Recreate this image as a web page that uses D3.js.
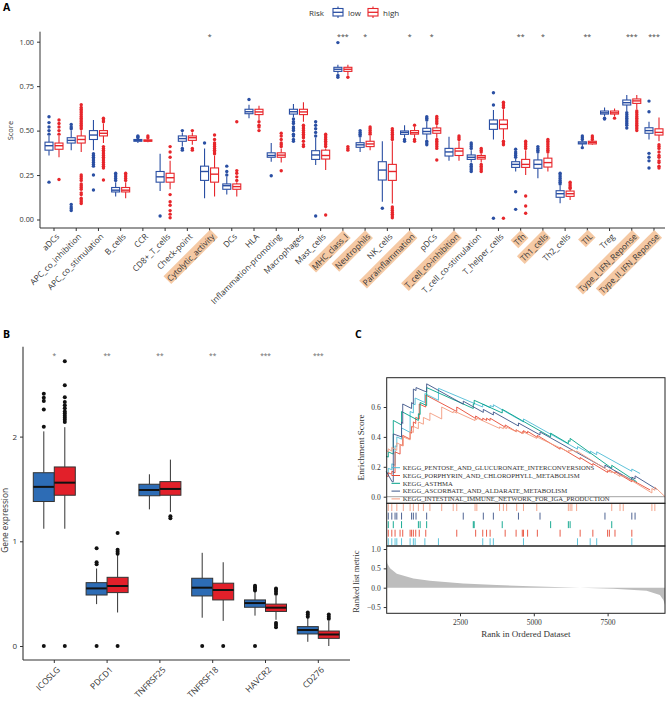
<!DOCTYPE html>
<html><head><meta charset="utf-8">
<script src="https://cdn.jsdelivr.net/npm/d3@7"></script>
<style>body{margin:0;background:#fff}svg{display:block}</style>
</head><body>
<svg id="c" width="669" height="708"></svg>
<script>
// ---------- Panel A data ----------
const catsA = ["aDCs","APC_co_inhibition","APC_co_stimulation","B_cells","CCR","CD8+_T_cells","Check-point","Cytolytic_activity","DCs","HLA","Inflammation-promoting","Macrophages","Mast_cells","MHC_class_I","Neutrophils","NK_cells","Parainflammation","pDCs","T_cell_co-inhibition","T_cell_co-stimulation","T_helper_cells","Tfh","Th1_cells","Th2_cells","TIL","Treg","Type_I_IFN_Reponse","Type_II_IFN_Reponse"];
const sigA = ["","","","","","","","*","","","","","","***","*","","*","*","","","","**","*","","**","","***","***"];
const highlightA = ["Cytolytic_activity","MHC_class_I","Neutrophils","Parainflammation","T_cell_co-inhibition","Tfh","Th1_cells","TIL","Type_I_IFN_Reponse","Type_II_IFN_Reponse"];
const groupsA = ["low","high"];
const ticksA = [0,0.25,0.5,0.75,1];
// [whiskerLow, q1, median, q3, whiskerHigh]
const statsLowA = [
 [0.36,0.39,0.415,0.435,0.47],[0.39,0.43,0.445,0.46,0.50],[0.39,0.45,0.475,0.50,0.56],[0.13,0.155,0.165,0.18,0.21],
 [0.43,0.44,0.445,0.45,0.455],[0.16,0.21,0.24,0.27,0.37],[0.41,0.44,0.455,0.47,0.49],[0.12,0.22,0.27,0.30,0.40],
 [0.14,0.17,0.19,0.20,0.24],[0.57,0.595,0.606,0.62,0.645],[0.325,0.35,0.36,0.375,0.43],[0.575,0.593,0.606,0.62,0.65],
 [0.307,0.338,0.363,0.387,0.46],[0.82,0.833,0.845,0.856,0.87],[0.38,0.406,0.42,0.432,0.46],[0.10,0.222,0.278,0.325,0.44],
 [0.46,0.479,0.49,0.498,0.53],[0.45,0.481,0.495,0.513,0.55],[0.33,0.357,0.38,0.40,0.466],[0.32,0.338,0.35,0.363,0.39],
 [0.45,0.507,0.537,0.56,0.616],[0.27,0.293,0.31,0.325,0.34],[0.232,0.288,0.31,0.335,0.37],[0.091,0.125,0.145,0.162,0.19],
 [0.41,0.425,0.43,0.437,0.445],[0.58,0.593,0.60,0.61,0.63],[0.61,0.644,0.657,0.672,0.70],[0.45,0.485,0.50,0.516,0.55]];
const statsHighA = [
 [0.35,0.395,0.415,0.43,0.47],[0.38,0.43,0.45,0.47,0.50],[0.43,0.47,0.485,0.50,0.54],[0.12,0.155,0.165,0.18,0.21],
 [0.435,0.44,0.443,0.448,0.455],[0.17,0.21,0.235,0.26,0.33],[0.42,0.445,0.46,0.47,0.49],[0.13,0.21,0.255,0.29,0.36],
 [0.13,0.17,0.185,0.20,0.21],[0.56,0.59,0.605,0.62,0.64],[0.32,0.35,0.362,0.375,0.40],[0.55,0.59,0.605,0.62,0.66],
 [0.278,0.34,0.36,0.39,0.40],[0.81,0.833,0.845,0.856,0.87],[0.39,0.41,0.425,0.44,0.47],[0.09,0.22,0.27,0.31,0.44],
 [0.46,0.48,0.488,0.50,0.52],[0.46,0.485,0.50,0.515,0.53],[0.33,0.36,0.385,0.40,0.44],[0.32,0.34,0.35,0.36,0.37],
 [0.45,0.51,0.535,0.56,0.62],[0.25,0.293,0.31,0.338,0.39],[0.27,0.295,0.32,0.345,0.37],[0.11,0.13,0.145,0.16,0.17],
 [0.42,0.425,0.433,0.44,0.445],[0.58,0.593,0.60,0.61,0.625],[0.62,0.653,0.667,0.678,0.70],[0.44,0.475,0.49,0.51,0.574]];
const outLowA = [
 [0.48,0.50,0.52,0.545,0.578,0.21],[0.51,0.52,0.535,0.05,0.06,0.07,0.085],[0.37,0.36,0.35,0.34,0.33,0.32,0.31,0.30,0.25,0.166],[0.22,0.23,0.24,0.25,0.26],
 [0.46,0.465,0.47],[0.02],[0.40,0.39,0.50],[0.43],
 [0.25,0.27,0.30],[0.675],[0.246],[0.565,0.55,0.54,0.52,0.51,0.50,0.48,0.47,0.45,0.44],
 [0.47,0.49,0.51,0.53,0.55,0.02],[0.81,0.80,0.995],[0.47,0.48,0.49,0.50],[0.063],
 [0.44,0.45],[0.56,0.57,0.578,0.44,0.43,0.42],[],[0.40,0.41,0.42,0.43,0.31,0.30,0.29,0.28,0.27],
 [0.644,0.713,0.007],[0.35,0.36,0.37,0.38,0.395,0.156,0.057],[0.38,0.39,0.40,0.41],[0.20,0.21,0.22,0.23,0.24,0.25,0.26],
 [0.45,0.46,0.47,0.404],[0.57,0.565],[0.60,0.59,0.58,0.57,0.56,0.55,0.54,0.53,0.515],[0.606,0.666,0.372,0.35,0.33,0.29]];
const outHighA = [
 [0.48,0.50,0.52,0.54,0.56,0.225],[0.51,0.52,0.53,0.54,0.55,0.56,0.57,0.58,0.59,0.60,0.61,0.62,0.63,0.645,0.09,0.10,0.11,0.12,0.14,0.15,0.17,0.18,0.19,0.20,0.22,0.23,0.24,0.25],
 [0.55,0.56,0.57,0.41,0.40,0.39,0.38,0.37,0.36,0.35,0.34,0.33,0.32,0.31,0.30,0.29,0.222],[0.22,0.23,0.24,0.25,0.26],
 [0.46,0.47],[0.35,0.38,0.41,0.14,0.10,0.08,0.05,0.03,0.01],[0.40,0.39,0.50],[0.37,0.38,0.39,0.40,0.41,0.42,0.43,0.45,0.475],
 [0.22,0.24,0.26,0.275,0.55],[0.55,0.53,0.52,0.50],[0.41,0.42,0.43,0.45,0.47,0.485,0.274],[0.53,0.52,0.51,0.50,0.49,0.48,0.47,0.46,0.44,0.42,0.41],
 [0.41,0.42,0.43,0.44,0.45,0.46,0.47,0.48,0.025],[0.80,0.41,0.40,0.39],[0.48,0.49,0.50,0.51,0.52],[0.45,0.46,0.47,0.48,0.49,0.50,0.51,0.07,0.06,0.05,0.04,0.03,0.02,0.01],
 [0.53,0.45,0.44],[0.54,0.55,0.56,0.57,0.58,0.45,0.44,0.43,0.42,0.41,0.40,0.335],[0.45,0.46,0.47],[0.38,0.39,0.40,0.31,0.30,0.29,0.28,0.27],
 [0.63,0.64,0.65,0.66,0.44,0.43,0.42,0.007],[0.40,0.41,0.42,0.43,0.44,0.132,0.076,0.035],[0.38,0.39,0.40,0.41,0.42,0.43,0.44,0.45],[0.175,0.18,0.19,0.20,0.21],
 [0.45,0.46,0.47],[0.57],[0.61,0.60,0.59,0.58,0.57,0.56,0.55,0.54,0.53,0.52,0.51,0.50],[0.42,0.41,0.40,0.38,0.36,0.35,0.33,0.32,0.30,0.29]];

// ---------- Panel B data ----------
const catsB = ["ICOSLG","PDCD1","TNFRSF25","TNFRSF18","HAVCR2","CD276"];
const sigB = ["*","**","**","**","***","***"];
const ticksB = [0,1,2];
const statsLowB = [[1.12,1.38,1.52,1.655,2.05],[0.40,0.487,0.55,0.605,0.74],[1.305,1.435,1.49,1.545,1.64],[0.27,0.478,0.557,0.647,0.89],[0.29,0.37,0.41,0.44,0.52],[0.04,0.115,0.153,0.185,0.27]];
const statsHighB = [[1.12,1.44,1.56,1.71,2.09],[0.32,0.51,0.573,0.656,0.87],[1.28,1.44,1.50,1.57,1.78],[0.24,0.44,0.535,0.60,0.80],[0.25,0.33,0.366,0.40,0.48],[0.0,0.073,0.11,0.143,0.24]];
const outLowB = [[2.095,2.26,2.34,2.37,2.41,0],[0.78,0.80,0.933,0],[],[0],[0.53,0.545,0.56,0.575,0],[0.28,0.30,0.32]];
const outHighB = [[2.14,2.16,2.18,2.20,2.22,2.24,2.27,2.30,2.33,2.375,2.49,2.72,0],[0.88,0.90,0.92,1.08,0],[1.24,1.22],[0],[0.50,0.52,0.54,0.55,0.22,0.20,0.18],[0.26,0.28,0.30]];

// ---------- Panel C data ----------
const gsNames = ["KEGG_PENTOSE_AND_GLUCURONATE_INTERCONVERSIONS","KEGG_PORPHYRIN_AND_CHLOROPHYLL_METABOLISM","KEGG_ASTHMA","KEGG_ASCORBATE_AND_ALDARATE_METABOLISM","KEGG_INTESTINAL_IMMUNE_NETWORK_FOR_IGA_PRODUCTION"];
const gsColors = ["#4DBBD5","#E64B35","#00A087","#3C5488","#F39B7F"];
const esPentose = [[0,0.16],[70,0.155],[70,0.19],[190,0.18],[190,0.22],[300,0.21],[300,0.34],[360,0.335],[360,0.40],[520,0.385],[520,0.46],[810,0.43],[810,0.57],[920,0.56],[920,0.62],[980,0.615],[980,0.66],[1310,0.63],[1310,0.69],[1770,0.645],[1770,0.725],[3270,0.60],[3270,0.62],[3520,0.595],[3520,0.61],[3630,0.60],[3630,0.615],[4650,0.50],[4650,0.52],[6480,0.318],[6480,0.335],[6910,0.288],[6910,0.305],[7130,0.281],[7130,0.30],[8320,0.17],[8320,0.185],[8600,0.155]];
const esPorphyrin = [[0,0.14],[70,0.135],[70,0.16],[190,0.15],[190,0.17],[300,0.16],[300,0.30],[470,0.285],[470,0.35],[560,0.34],[560,0.41],[810,0.385],[810,0.43],[860,0.425],[860,0.47],[920,0.465],[920,0.50],[1000,0.49],[1000,0.53],[1120,0.52],[1120,0.62],[1340,0.60],[1340,0.68],[2390,0.57],[2390,0.60],[3030,0.523],[3030,0.54],[3270,0.51],[3270,0.525],[3400,0.51],[3400,0.525],[3520,0.51],[3520,0.525],[4030,0.465],[4030,0.48],[4400,0.436],[4400,0.448],[4610,0.423],[4610,0.435],[4650,0.43],[4650,0.442],[4790,0.425],[4790,0.437],[5120,0.397],[5120,0.41],[5890,0.318],[5890,0.33],[6570,0.25],[6570,0.262],[7000,0.21],[7000,0.222],[7500,0.162],[7500,0.174],[7560,0.167],[7560,0.179],[7750,0.156],[7750,0.168],[8320,0.10],[8320,0.112],[8940,0.045]];
const esAsthma = [[0,0.27],[70,0.265],[70,0.30],[240,0.285],[240,0.51],[520,0.48],[520,0.57],[1090,0.51],[1090,0.555],[1150,0.55],[1150,0.63],[1370,0.61],[1370,0.73],[2950,0.59],[2950,0.62],[2980,0.618],[2980,0.645],[3930,0.56],[3930,0.585],[5570,0.40],[5570,0.425],[6170,0.355],[6170,0.375],[6230,0.37],[6230,0.39],[7640,0.19],[7640,0.21],[8485,0.10]];
const esAscorbate = [[0,0.17],[200,0.10],[240,0.10],[240,0.42],[520,0.40],[520,0.50],[560,0.49],[560,0.62],[860,0.59],[860,0.63],[920,0.62],[920,0.72],[1010,0.71],[1010,0.73],[1370,0.70],[1370,0.755],[2610,0.619],[2610,0.639],[3290,0.564],[3290,0.584],[3630,0.547],[3630,0.567],[4480,0.473],[4480,0.493],[5210,0.413],[5210,0.433],[7410,0.191],[7410,0.211],[8320,0.111],[8320,0.131],[8430,0.119],[8430,0.139],[9160,0.05]];
const esIntestinal = [[0,0.31],[70,0.30],[70,0.32],[190,0.305],[190,0.33],[360,0.31],[360,0.36],[580,0.34],[580,0.40],[810,0.38],[810,0.44],[920,0.43],[920,0.47],[1090,0.455],[1090,0.50],[1260,0.485],[1260,0.53],[1480,0.51],[1480,0.56],[1880,0.52],[1880,0.60],[2270,0.561],[2270,0.571],[2390,0.559],[2390,0.565],[3010,0.509],[3010,0.52],[3070,0.515],[3070,0.526],[3840,0.457],[3840,0.467],[3970,0.455],[3970,0.465],[4080,0.455],[4080,0.465],[4420,0.434],[4420,0.444],[4650,0.423],[4650,0.433],[5100,0.39],[5100,0.40],[6170,0.30],[6170,0.31],[6230,0.303],[6230,0.313],[6290,0.306],[6290,0.316],[6450,0.296],[6450,0.306],[7640,0.16],[7640,0.17],[7920,0.135],[7920,0.145],[8030,0.132],[8030,0.142],[9000,0.025],[9000,0.055],[9100,0.043],[9100,0.065],[9444,0.0]];
const esLines = [esPentose, esPorphyrin, esAsthma, esAscorbate, esIntestinal];
const hitsPentose = [70,190,300,360,520,810,920,980,1310,1770,3270,3520,3630,4650,6480,6910,7130,8320];
const hitsPorphyrin = [70,190,300,470,560,810,860,920,1000,1120,1340,2390,3030,3270,3400,3520,4030,4400,4610,4650,4790,5120,5890,6570,7000,7500,7560,7750,8320];
const hitsAsthma = [70,240,520,1090,1150,1370,2950,2980,3930,5570,6170,6230,7640];
const hitsAscorbate = [70,190,300,360,520,860,920,1010,1370,2610,3290,3630,4480,5210,7410,8320,8430];
const hitsIntestinal = [70,190,360,580,810,920,1090,1260,1480,1880,2270,2390,3010,3070,3840,3970,4080,4420,4650,5100,6170,6230,6290,6450,7640,7920,8030,9000,9100];
const hitsAll = [hitsPentose, hitsPorphyrin, hitsAsthma, hitsAscorbate, hitsIntestinal];
const metricRank = [0,40,130,360,920,1480,2610,3740,4870,6000,6570,7690,8820,9270,9390,9444];
const metricVal = [0.75,0.62,0.50,0.36,0.24,0.18,0.11,0.07,0.04,0.01,0.0,-0.03,-0.08,-0.19,-0.32,-0.45];
const nGenes = 9444;
const esTicks = [0,0.2,0.4,0.6];
const metricTicks = [-0.5,0,0.5,1];
const rankTicks = [2500,5000,7500];

// ---------- drawing ----------
const svg = d3.select("#c");
const sans = "'Open Sans', 'Liberation Sans', sans-serif";
const serif = "'Liberation Serif', 'DejaVu Serif', serif";
const blueA = "#2A4FA3", redA = "#E7262B";
const blueB = "#2D6CB5", redB = "#E2202A";
const peach = "#F5C9A4";

function drawBox(g, cx, w, s, outs, y, o) {
  const gg = g.append("g");
  gg.append("line").attr("x1",cx).attr("x2",cx).attr("y1",y(s[0])).attr("y2",y(s[1])).attr("stroke",o.line).attr("stroke-width",o.lw);
  gg.append("line").attr("x1",cx).attr("x2",cx).attr("y1",y(s[3])).attr("y2",y(s[4])).attr("stroke",o.line).attr("stroke-width",o.lw);
  gg.append("rect").attr("x",cx-w/2).attr("y",y(s[3])).attr("width",w).attr("height",Math.max(0.5,y(s[1])-y(s[3])))
    .attr("fill",o.fill).attr("stroke",o.line).attr("stroke-width",o.lw);
  gg.append("line").attr("x1",cx-w/2).attr("x2",cx+w/2).attr("y1",y(s[2])).attr("y2",y(s[2])).attr("stroke",o.med).attr("stroke-width",o.mw);
  gg.selectAll("circle").data(outs).join("circle").attr("cx",cx).attr("cy",d=>y(d)).attr("r",o.r).attr("fill",o.dot);
}

// ===== Panel A =====
const gA = svg.append("g");
const xA = d3.scalePoint().domain(catsA).range([54,654]);
const yA = d3.scaleLinear().domain([0,1]).range([219.5,41.7]);
const axTopA = 31.7, axBotA = 228, axLeftA = 40, axRightA = 665;
gA.append("text").attr("x",3).attr("y",10.5).text("A").attr("font-family",sans).attr("font-weight","bold").attr("font-size",10.5);
const yAxA = d3.axisLeft(yA).tickValues(ticksA).tickFormat(d3.format(".2f")).tickSize(3).tickSizeOuter(0);
const gyA = gA.append("g").attr("transform",`translate(${axLeftA},0)`).call(yAxA);
gyA.select(".domain").remove();
gyA.selectAll("line").attr("stroke","#333");
gyA.selectAll("text").attr("font-family",sans).attr("font-size",7.3).attr("fill","#333");
gA.append("line").attr("x1",axLeftA).attr("x2",axLeftA).attr("y1",axTopA).attr("y2",axBotA).attr("stroke","#333").attr("stroke-width",1);
gA.append("text").attr("transform",`translate(13,${yA(0.5)}) rotate(-90)`).attr("text-anchor","middle").attr("font-family",sans).attr("font-size",7.5).attr("fill","#333").text("Score");
gA.append("line").attr("x1",axLeftA).attr("x2",axRightA).attr("y1",axBotA).attr("y2",axBotA).attr("stroke","#333").attr("stroke-width",1);
catsA.forEach((c,i)=>{
  const x = xA(c);
  gA.append("line").attr("x1",x).attr("x2",x).attr("y1",axBotA).attr("y2",axBotA+3).attr("stroke","#333");
  const lg = gA.append("g").attr("transform",`translate(${x+1.5},${axBotA+5}) rotate(-45)`);
  const t = lg.append("text").attr("text-anchor","end").attr("dy","0.72em").attr("font-family",sans).attr("font-size",8.3).attr("fill","#333").text(c);
  if (highlightA.includes(c)) {
    const bb = t.node().getBBox();
    lg.insert("rect","text").attr("x",bb.x-1).attr("y",bb.y).attr("width",bb.width+2).attr("height",bb.height).attr("fill",peach);
  }
  if (sigA[i]) gA.append("text").attr("x",x).attr("y",39).attr("text-anchor","middle").attr("font-family",sans).attr("font-size",7).attr("fill","#444").text(sigA[i]);
  drawBox(gA, x-5, 8, statsLowA[i], outLowA[i], yA, {line:blueA, fill:"#fff", med:blueA, dot:blueA, lw:1.1, mw:1.4, r:1.7});
  drawBox(gA, x+5, 8, statsHighA[i], outHighA[i], yA, {line:redA, fill:"#fff", med:redA, dot:redA, lw:1.1, mw:1.4, r:1.7});
});
const lgA = gA.append("g");
lgA.append("text").attr("x",309).attr("y",15.5).attr("font-family",sans).attr("font-size",8).attr("fill","#333").text("Risk");
[[blueA,333,"low"],[redA,368,"high"]].forEach(([col,x0,lab])=>{
  lgA.append("line").attr("x1",x0+5).attr("x2",x0+5).attr("y1",6.5).attr("y2",18).attr("stroke",col).attr("stroke-width",1.1);
  lgA.append("rect").attr("x",x0).attr("y",8.5).attr("width",10).attr("height",7.5).attr("fill","#fff").attr("stroke",col).attr("stroke-width",1.1);
  lgA.append("line").attr("x1",x0).attr("x2",x0+10).attr("y1",12.3).attr("y2",12.3).attr("stroke",col).attr("stroke-width",1.3);
  lgA.append("text").attr("x",x0+15).attr("y",15.5).attr("font-family",sans).attr("font-size",8).attr("fill","#333").text(lab);
});

// ===== Panel B =====
const gB = svg.append("g");
const xB = d3.scalePoint().domain(catsB).range([54.3,318.3]);
const yB = d3.scaleLinear().domain([0,1]).range([646,541.3]);
const axTopB = 346.7, axBotB = 660, axLeftB = 23, axRightB = 350;
gB.append("text").attr("x",3).attr("y",337.5).text("B").attr("font-family",sans).attr("font-weight","bold").attr("font-size",10.5);
const yAxB = d3.axisLeft(yB).tickValues(ticksB).tickFormat(d3.format("d")).tickSize(3).tickSizeOuter(0);
const gyB = gB.append("g").attr("transform",`translate(${axLeftB},0)`).call(yAxB);
gyB.select(".domain").remove();
gyB.selectAll("line").attr("stroke","#333");
gyB.selectAll("text").attr("font-family",sans).attr("font-size",8).attr("fill","#333");
gB.append("line").attr("x1",axLeftB).attr("x2",axLeftB).attr("y1",axTopB).attr("y2",axBotB).attr("stroke","#333").attr("stroke-width",1.1);
gB.append("line").attr("x1",axLeftB).attr("x2",axRightB).attr("y1",axBotB).attr("y2",axBotB).attr("stroke","#333").attr("stroke-width",1.1);
gB.append("text").attr("transform",`translate(8,${yB(1.2)}) rotate(-90)`).attr("text-anchor","middle").attr("font-family",sans).attr("font-size",8.3).attr("fill","#333").text("Gene expression");
catsB.forEach((c,i)=>{
  const x = xB(c);
  gB.append("line").attr("x1",x).attr("x2",x).attr("y1",axBotB).attr("y2",axBotB+3).attr("stroke","#333");
  gB.append("g").attr("transform",`translate(${x+2},${axBotB+6}) rotate(-45)`)
    .append("text").attr("text-anchor","end").attr("dy","0.72em").attr("font-family",sans).attr("font-size",8.5).attr("fill","#333").text(c);
  gB.append("text").attr("x",x).attr("y",358).attr("text-anchor","middle").attr("font-family",sans).attr("font-size",6.5).attr("fill","#666").text(sigB[i]);
  drawBox(gB, x-10.5, 21, statsLowB[i], outLowB[i], yB, {line:"#333", fill:blueB, med:"#111", dot:"#111", lw:1, mw:2, r:2});
  drawBox(gB, x+10.5, 21, statsHighB[i], outHighB[i], yB, {line:"#333", fill:redB, med:"#111", dot:"#111", lw:1, mw:2, r:2});
});

// ===== Panel C =====
const gC = svg.append("g");
const fL = 386.7, fR = 665, fT = 377.7, fM1 = 503.3, fM2 = 546, fB = 613.3;
gC.append("text").attr("x",355).attr("y",337.5).text("C").attr("font-family",sans).attr("font-weight","bold").attr("font-size",10.5);
const xC = d3.scaleLinear().domain([0,nGenes]).range([386.2,665]);
const yES = d3.scaleLinear().domain([0,0.6]).range([496.7,407]);
const yM = d3.scaleLinear().domain([0,1]).range([587.7,549]);
const area = d3.area().x((d,i)=>xC(metricRank[i])).y0(yM(0)).y1(d=>yM(d));
gC.append("path").attr("d",area(metricVal)).attr("fill","#BDBDBD");
gC.append("line").attr("x1",fL).attr("x2",fR).attr("y1",yES(0)).attr("y2",yES(0)).attr("stroke","#8a8a8a").attr("stroke-width",0.8);
const line = d3.line().x(d=>xC(d[0])).y(d=>yES(d[1]));
esLines.forEach((pts,k)=>{
  gC.append("path").attr("d",line(pts)).attr("fill","none").attr("stroke",gsColors[k]).attr("stroke-width",0.9);
});
const rowH = (fM2-fM1)/5;
const rowOrder = [4,3,2,1,0];
rowOrder.forEach((k,r)=>{
  const y0 = fM1 + r*rowH + 0.8, y1 = fM1 + (r+1)*rowH - 0.8;
  gC.append("g").selectAll("line").data(hitsAll[k]).join("line")
    .attr("x1",d=>xC(d)).attr("x2",d=>xC(d)).attr("y1",y0).attr("y2",y1).attr("stroke",gsColors[k]).attr("stroke-width",0.9);
});
[[fT,fM1],[fM1,fM2],[fM2,fB]].forEach(([a,b])=>{
  gC.append("rect").attr("x",fL).attr("y",a).attr("width",fR-fL).attr("height",b-a).attr("fill","none").attr("stroke","#222").attr("stroke-width",1);
});
gsNames.forEach((n,k)=>{
  const y = 467.7 + k*7.8;
  gC.append("line").attr("x1",391.5).attr("x2",400).attr("y1",y).attr("y2",y).attr("stroke",gsColors[k]).attr("stroke-width",1);
  gC.append("text").attr("x",402.7).attr("y",y).attr("dy","0.35em").attr("font-family",serif).attr("font-size",6.7).attr("fill","#333").text(n);
});
const gyES = gC.append("g").attr("transform",`translate(${fL},0)`).call(d3.axisLeft(yES).tickValues(esTicks).tickFormat(d3.format(".1f")).tickSize(3).tickSizeOuter(0));
gyES.select(".domain").remove();
gyES.selectAll("line").attr("stroke","#333");
gyES.selectAll("text").attr("font-family",serif).attr("font-size",7.5).attr("fill","#333");
const gyM = gC.append("g").attr("transform",`translate(${fL},0)`).call(d3.axisLeft(yM).tickValues(metricTicks).tickFormat(d3.format(".1f")).tickSize(3).tickSizeOuter(0));
gyM.select(".domain").remove();
gyM.selectAll("line").attr("stroke","#333");
gyM.selectAll("text").attr("font-family",serif).attr("font-size",7.5).attr("fill","#333");
const gxC = gC.append("g").attr("transform",`translate(0,${fB})`).call(d3.axisBottom(xC).tickValues(rankTicks).tickFormat(d3.format("d")).tickSize(3).tickSizeOuter(0));
gxC.select(".domain").remove();
gxC.selectAll("line").attr("stroke","#333");
gxC.selectAll("text").attr("font-family",serif).attr("font-size",7.5).attr("fill","#333");
gC.append("text").attr("x",(fL+fR)/2).attr("y",637).attr("text-anchor","middle").attr("font-family",serif).attr("font-size",9).attr("fill","#333").text("Rank in Ordered Dataset");
gC.append("text").attr("transform",`translate(364,${yES(0.33)}) rotate(-90)`).attr("text-anchor","middle").attr("font-family",serif).attr("font-size",9.2).attr("fill","#333").text("Enrichment Score");
gC.append("text").attr("transform",`translate(359,${(fM2+fB)/2+2}) rotate(-90)`).attr("text-anchor","middle").attr("font-family",serif).attr("font-size",8.5).attr("fill","#333").text("Ranked list metric");
</script>
</body></html>
